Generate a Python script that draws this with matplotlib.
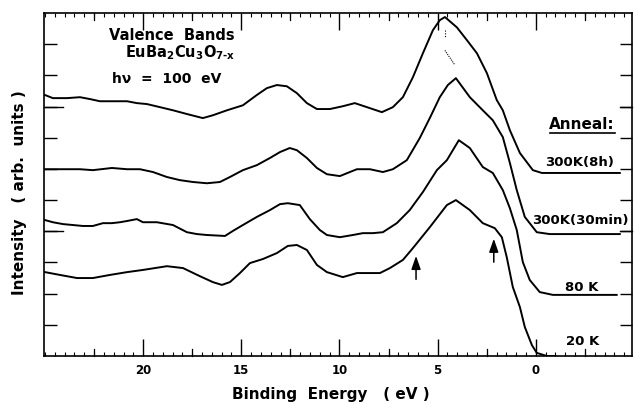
import matplotlib
matplotlib.use("Agg")
import matplotlib.pyplot as plt
from matplotlib.ticker import MultipleLocator, NullFormatter

plt.rcParams['font.family'] = ['DejaVu Sans']
plt.rcParams['font.weight'] = 'bold'
plt.rcParams['mathtext.fontset'] = 'custom'
plt.rcParams['mathtext.rm'] = 'DejaVu Sans:bold'
plt.rcParams['mathtext.it'] = 'DejaVu Sans:bold'
plt.rcParams['mathtext.bf'] = 'DejaVu Sans:bold'
plt.rcParams['mathtext.default'] = 'rm'

# ---- data (binding energy in eV, intensity in arb. units) ----
x_8h = [25.0, 24.6, 23.88, 23.22, 22.71, 22.2, 21.54, 20.82, 20.32, 19.81, 19.14, 18.48,
        17.77, 16.96, 16.45, 15.73, 14.92, 14.21, 13.7, 13.19, 12.68, 12.17, 11.66, 11.15,
        10.49, 9.83, 9.22, 8.6, 7.84, 7.28, 6.77, 6.26, 5.75, 5.24, 4.89, 4.63, 4.02, 3.51,
        3.0, 2.49, 1.99, 1.68, 1.32, 0.81, 0.15, -0.31, -1.22, -4.28]
y_8h = [8.37, 8.27, 8.27, 8.3, 8.24, 8.17, 8.17, 8.17, 8.11, 8.08, 7.98, 7.88,
        7.76, 7.63, 7.72, 7.88, 8.04, 8.37, 8.59, 8.69, 8.65, 8.43, 8.11, 7.92,
        7.92, 8.01, 8.11, 7.98, 7.82, 7.98, 8.3, 8.94, 9.71, 10.45, 10.77, 10.87, 10.54, 10.13,
        9.71, 9.07, 8.21, 7.88, 7.24, 6.51, 5.96, 5.87, 5.87, 5.87]

x_30m = [25.0, 24.24, 23.22, 22.56, 21.59, 20.82, 20.16, 19.5, 18.79, 18.13, 17.46, 16.75,
         16.09, 15.58, 14.92, 14.21, 13.54, 13.03, 12.53, 12.17, 11.66, 11.15, 10.64, 9.98,
         9.47, 9.11, 8.45, 7.79, 7.28, 6.57, 5.91, 5.4, 4.89, 4.48, 4.07, 3.36, 2.7, 2.19,
         1.68, 1.32, 0.97, 0.56, -0.05, -0.71, -1.22, -4.28]
y_30m = [5.99, 5.99, 5.99, 5.96, 6.03, 5.99, 5.99, 5.9, 5.74, 5.64, 5.58, 5.54,
         5.58, 5.74, 5.96, 6.12, 6.35, 6.54, 6.67, 6.6, 6.35, 6.03, 5.83, 5.77,
         5.9, 5.99, 5.99, 5.9, 5.99, 6.28, 6.99, 7.63, 8.3, 8.69, 8.91, 8.3, 7.88, 7.56,
         7.02, 6.19, 5.32, 4.46, 3.97, 3.91, 3.91, 3.91]

x_80k = [25.0, 24.6, 24.08, 23.57, 23.07, 22.56, 22.05, 21.59, 21.18, 20.82, 20.32, 20.01,
         19.3, 18.48, 17.77, 17.26, 16.75, 15.83, 15.43, 14.92, 14.21, 13.54, 13.03, 12.63,
         12.02, 11.51, 11.0, 10.64, 9.98, 9.32, 8.81, 8.3, 7.79, 7.08, 6.42, 5.75, 5.04,
         4.53, 3.92, 3.36, 2.7, 2.19, 1.68, 1.32, 0.97, 0.66, 0.31, -0.2, -0.87, -1.22, -4.12]
y_80k = [4.36, 4.29, 4.23, 4.2, 4.17, 4.17, 4.26, 4.26, 4.29, 4.33, 4.39, 4.29,
         4.29, 4.2, 3.97, 3.91, 3.88, 3.85, 4.01, 4.2, 4.46, 4.68, 4.87, 4.9,
         4.84, 4.39, 4.04, 3.88, 3.81, 3.88, 3.94, 3.94, 3.97, 4.26, 4.68, 5.26, 5.96,
         6.28, 6.92, 6.67, 6.06, 5.87, 5.32, 4.74, 4.04, 3.01, 2.44, 2.05, 1.96, 1.96, 1.96]

x_20k = [25.0, 24.24, 23.37, 22.56, 21.69, 20.82, 20.01, 18.79, 17.97, 17.11, 16.45, 15.99,
         15.58, 15.07, 14.56, 13.9, 13.19, 12.63, 12.17, 11.66, 11.15, 10.64, 9.83, 9.11,
         8.45, 7.94, 7.43, 6.77, 6.26, 5.4, 4.53, 4.07, 3.36, 2.7, 2.09, 1.73, 1.48, 1.17,
         0.81, 0.56, 0.2, -0.05, -0.56, -1.0]
y_20k = [2.69, 2.6, 2.5, 2.5, 2.6, 2.69, 2.76, 2.88, 2.82, 2.56, 2.37, 2.28,
         2.37, 2.66, 2.98, 3.11, 3.3, 3.53, 3.56, 3.4, 2.92, 2.69, 2.53, 2.66,
         2.66, 2.66, 2.82, 3.08, 3.46, 4.13, 4.84, 5.0, 4.68, 4.26, 4.1, 3.81, 3.17, 2.21,
         1.57, 0.93, 0.35, 0.1, 0.0, 0.0]

curve_labels = ["300K(8h)", "300K(30min)", "80 K", "20 K"]
label_x = [-2.24, -2.27, -2.34, -2.39]
label_y = [6.19, 4.36, 2.21, 0.45]

arrow_x = [6.1, 2.14]
arrow_y0 = [2.37, 2.92]
arrow_y1 = [3.30, 3.85]

xticks_major = [20, 15, 10, 5, 0]

# ---- figure ----
fig = plt.figure(figsize=(6.34, 4.04), dpi=100)
ax = fig.add_axes([44/634, 1-356/404, (632-44)/634, (356-13)/404])

for xs, ys in [(x_8h, y_8h), (x_30m, y_30m), (x_80k, y_80k), (x_20k, y_20k)]:
    ax.plot(xs, ys, color='black', lw=1.4, solid_joinstyle='round')

ax.set_xlim(25.05, -4.9)
ax.set_ylim(0, 11)

# ticks
ax.xaxis.set_minor_locator(MultipleLocator(0.5))
ax.set_xticks(xticks_major)
ax.set_xticklabels([str(v) for v in xticks_major])
ax.tick_params(axis='x', which='major', direction='in', length=12, width=1.0,
               top=True, bottom=True, labelsize=8.5, pad=6)
ax.tick_params(axis='x', which='minor', direction='in', length=3, width=0.8,
               top=True, bottom=True)
for xm in [22.5, 17.5, 12.5, 7.5, 2.5, -2.5]:
    ax.plot([xm, xm], [0, 0.22], color='black', lw=0.9, clip_on=False)
    ax.plot([xm, xm], [11, 10.78], color='black', lw=0.9, clip_on=False)

ax.set_yticks(range(1, 11))
ax.yaxis.set_major_formatter(NullFormatter())
ax.tick_params(axis='y', which='major', direction='in', length=9, width=1.0,
               left=True, right=True)
ax.plot([25.05, 24.1], [4, 4], color='black', lw=1.0, clip_on=False)
ax.plot([25.05, 24.1], [8, 8], color='black', lw=1.0, clip_on=False)
ax.plot([-4.9, -4.3], [4, 4], color='black', lw=1.0, clip_on=False)
ax.plot([-4.9, -4.3], [8, 8], color='black', lw=1.0, clip_on=False)

for s in ax.spines.values():
    s.set_linewidth(1.2)

for lbl in ax.get_xticklabels():
    lbl.set_fontweight('bold')

fig.text(331/634, 1-394/404, "Binding  Energy   ( eV )", fontsize=11, fontweight='bold',
         ha='center', va='center')
fig.text(20/634, 1-193/404, "Intensity   ( arb.  units )", rotation=90, fontsize=11,
         fontweight='bold', ha='center', va='center')

# annotations
ax.text(18.53, 10.29, "Valence  Bands", fontsize=10.5, fontweight='bold', ha='center', va='center')
ax.text(18.1, 9.72, r"EuBa$_2$Cu$_3$O$_{7\text{-}x}$", fontsize=10.5, fontweight='bold',
        ha='center', va='center')
ax.text(18.8, 8.87, "h\u03bd  =  100  eV", fontsize=10, fontweight='bold', ha='center', va='center')

ax.text(-2.34, 7.42, "Anneal:", fontsize=11, fontweight='bold', ha='center', va='center')
ax.plot([-0.71, -4.04], [7.15, 7.15], color='black', lw=1.2)

for t, lx, ly in zip(curve_labels, label_x, label_y):
    ax.text(lx, ly, t, fontsize=9.5, fontweight='bold', ha='center', va='center')

for ax_, y0, y1 in zip(arrow_x, arrow_y0, arrow_y1):
    ax.annotate("", xy=(ax_, y1), xytext=(ax_, y0),
                arrowprops=dict(arrowstyle="-|>,head_length=0.8,head_width=0.28",
                                color='black', lw=1.1))

# small dotted marks near the top peak
ax.plot([4.63, 4.63], [10.45, 10.2], color='black', lw=0.8, ls=(0, (1, 1.5)))
ax.plot([4.63, 4.12], [9.8, 9.33], color='black', lw=0.8, ls=(0, (1, 1)))

fig.savefig("out.png", dpi=100)
